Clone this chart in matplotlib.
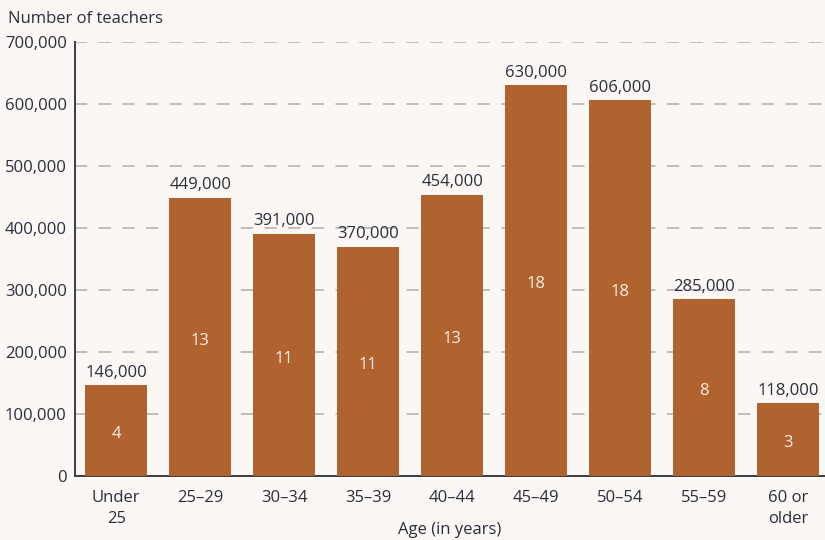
import matplotlib.pyplot as plt
from matplotlib.ticker import FuncFormatter

plt.rcParams['font.family'] = ['Open Sans', 'DejaVu Sans']

categories = ["Under\n25", "25\u201329", "30\u201334", "35\u201339", "40\u201344",
              "45\u201349", "50\u201354", "55\u201359", "60 or\nolder"]
teachers = [146000, 449000, 391000, 370000, 454000, 630000, 606000, 285000, 118000]
percents = [4, 13, 11, 11, 13, 18, 18, 8, 3]

bg = "#FAF7F4"
bar_color = "#B0622F"
text_color = "#2B2D3A"

fig = plt.figure(figsize=(8.25, 5.4), dpi=100, facecolor=bg)
ax = fig.add_axes([0.0909, 0.1185, 0.9091, 0.8037], facecolor=bg)

x = range(len(categories))
bars = ax.bar(x, teachers, width=0.73, color=bar_color, zorder=3)

for xi, v, p in zip(x, teachers, percents):
    ax.text(xi, v + 7000, f"{v:,}", ha="center", va="bottom",
            fontsize=12, color=text_color)
    ax.text(xi, v / 2 - 6000, str(p), ha="center", va="center",
            fontsize=12, color="#FBEFE6", zorder=4)

ax.set_xlim(-0.49, 8.44)
ax.set_ylim(0, 700000)
ax.set_yticks(range(0, 700001, 100000))
ax.yaxis.set_major_formatter(FuncFormatter(lambda v, _: f"{int(v):,}"))
ax.set_xticks(list(x))
ax.set_xticklabels(categories, linespacing=1.45)
ax.tick_params(axis="x", length=0, pad=10, labelsize=12, colors=text_color)
ax.tick_params(axis="y", length=0, pad=6, labelsize=12, colors=text_color)

ax.grid(axis="y", color="#AEAEAE", linestyle=(0, (8, 7.5)), linewidth=1.1, zorder=0)
for s in ["top", "right"]:
    ax.spines[s].set_visible(False)
for s in ["left", "bottom"]:
    ax.spines[s].set_color("#3A3D4A")
    ax.spines[s].set_linewidth(1.4)

ax.set_xlabel("Age (in years)", fontsize=12, color=text_color, labelpad=-4)
fig.text(0.0097, 0.965, "Number of teachers", fontsize=12, color=text_color,
         ha="left", va="center")

fig.savefig("out.png", dpi=100, facecolor=bg)
